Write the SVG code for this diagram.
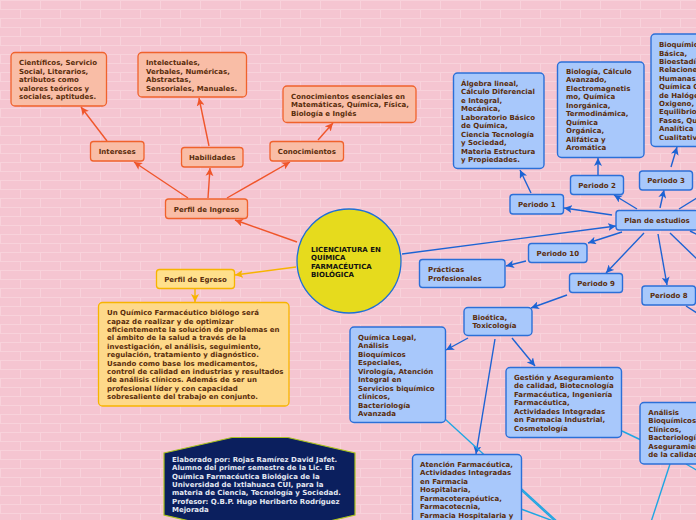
<svg xmlns="http://www.w3.org/2000/svg" width="696" height="520" viewBox="0 0 696 520">
<defs>
<pattern id="brick" width="40" height="18" patternUnits="userSpaceOnUse">
<rect width="40" height="18" fill="#f5c5d1"/>
<path d="M0 0.5H40M0 9.5H40M0.5 0V9M20.5 9V18" stroke="#f8d2db" stroke-width="1" fill="none"/>
</pattern>
<marker id="ao" markerWidth="9" markerHeight="8" refX="8" refY="4" orient="auto" markerUnits="userSpaceOnUse"><path d="M0 0L8 4L0 8L2 4z" fill="#f0552a"/></marker>
<marker id="ay" markerWidth="9" markerHeight="8" refX="8" refY="4" orient="auto" markerUnits="userSpaceOnUse"><path d="M0 0L8 4L0 8L2 4z" fill="#f7b400"/></marker>
<marker id="ab" markerWidth="9" markerHeight="8" refX="8" refY="4" orient="auto" markerUnits="userSpaceOnUse"><path d="M0 0L8 4L0 8L2 4z" fill="#1c63d4"/></marker>
</defs>
<style>
text{font-family:"DejaVu Sans","Verdana",sans-serif;font-weight:bold;font-size:7px;fill:#5a2d0c}
.c{text-anchor:middle}
.o{fill:#f9bda6;stroke:#f0622c;stroke-width:1.3}
.b{fill:#a8c8fb;stroke:#2b6fd8;stroke-width:1.4}
.y{fill:#ffe08c;stroke:#f7b400;stroke-width:1.3}
.y2{fill:#fed98a;stroke:#f7b400;stroke-width:1.3}
.lo{stroke:#f0552a;stroke-width:1.4;fill:none;marker-end:url(#ao)}
.ly{stroke:#f7b400;stroke-width:1.4;fill:none;marker-end:url(#ay)}
.lb{stroke:#1c63d4;stroke-width:1.4;fill:none;marker-end:url(#ab)}
.lb0{stroke:#1c63d4;stroke-width:1.4;fill:none}
.lc{stroke:#1ea6e3;stroke-width:1.4;fill:none}
.k{fill:#111}
.w{fill:#e4e8f2}
</style>
<rect width="696" height="520" fill="url(#brick)"/>

<g id="connectors">
<line class="lo" x1="188" y1="198" x2="134" y2="162"/>
<line class="lo" x1="208" y1="198" x2="210" y2="168"/>
<line class="lo" x1="227" y1="198" x2="290" y2="162"/>
<line class="lo" x1="107" y1="141" x2="81" y2="107"/>
<line class="lo" x1="209" y1="146" x2="199" y2="98"/>
<line class="lo" x1="318" y1="140" x2="333" y2="123"/>
<line class="lo" x1="297" y1="242" x2="235" y2="220"/>
<line class="ly" x1="296" y1="267" x2="235" y2="275"/>
<line class="ly" x1="195" y1="289" x2="195" y2="302"/>
<line class="lb" x1="402" y1="254" x2="616" y2="226"/>
<line class="lb" x1="612" y1="215" x2="564" y2="208"/>
<line class="lb" x1="531" y1="193" x2="520" y2="170"/>
<line class="lb" x1="637" y1="209" x2="614" y2="195"/>
<line class="lb" x1="598" y1="175" x2="598" y2="158"/>
<line class="lb" x1="660" y1="208" x2="664" y2="190"/>
<line class="lb" x1="671" y1="167" x2="677" y2="147"/>
<line class="lb0" x1="679" y1="209" x2="700" y2="196"/>
<line class="lb0" x1="670" y1="233" x2="700" y2="262"/>
<line class="lb0" x1="690" y1="231" x2="700" y2="236"/>
<line class="lb" x1="622" y1="232" x2="588" y2="243"/>
<line class="lb" x1="526" y1="261" x2="506" y2="266"/>
<line class="lb" x1="644" y1="233" x2="606" y2="273"/>
<line class="lb" x1="658" y1="234" x2="667" y2="285"/>
<line class="lb0" x1="686" y1="306" x2="700" y2="315"/>
<line class="lb" x1="567" y1="295" x2="531" y2="308"/>
<line class="lb" x1="468" y1="338" x2="446" y2="350"/>
<line class="lb" x1="512" y1="338" x2="535" y2="366"/>
<line class="lb" x1="495" y1="339" x2="476" y2="454"/>
<line class="lc" x1="445" y1="419" x2="560" y2="524"/>
<line class="lc" x1="521" y1="490" x2="556" y2="522"/>
<line class="lc" x1="521" y1="509" x2="556" y2="522"/>
<line class="lc" x1="622" y1="431" x2="641" y2="440"/>
<line class="lc" x1="670" y1="464" x2="651" y2="522"/>
<line class="lc" x1="686" y1="464" x2="700" y2="472"/>
</g>

<g id="center">
<circle cx="349" cy="261" r="52" fill="#e6db1d" stroke="#1f6fd6" stroke-width="1.3"/>
<text class="k" x="311" y="251.5" font-size="6.7">LICENCIATURA EN</text>
<text class="k" x="311" y="260" font-size="6.7">QUÍMICA</text>
<text class="k" x="311" y="268.5" font-size="6.7">FARMACÉUTICA</text>
<text class="k" x="311" y="277" font-size="6.7">BIOLÓGICA</text>
</g>

<g id="perfil-ingreso"><rect class="o" x="165.5" y="199" width="82" height="19.5" rx="3"/><text class="c" x="206.5" y="211.8">Perfil de Ingreso</text></g>
<g id="intereses"><rect class="o" x="90.5" y="141.5" width="53.5" height="19.5" rx="3"/><text class="c" x="117.2" y="153.8">Intereses</text></g>
<g id="habilidades"><rect class="o" x="181.5" y="147.5" width="61.5" height="19.5" rx="3"/><text class="c" x="212.2" y="159.8">Habilidades</text></g>
<g id="conocimientos"><rect class="o" x="270" y="141.5" width="73.5" height="19.5" rx="3"/><text class="c" x="306.8" y="153.8">Conocimientos</text></g>
<g id="cientificos"><rect class="o" x="11" y="52.5" width="95.5" height="53.5" rx="4"/>
<text x="19" y="65.3">Científicos, Servicio</text><text x="19" y="73.8">Social, Literarios,</text><text x="19" y="82.3">atributos como</text><text x="19" y="90.8">valores teóricos y</text><text x="19" y="99.3">sociales, aptitudes.</text></g>
<g id="intelectuales"><rect class="o" x="138" y="52.5" width="108.5" height="44.5" rx="4"/>
<text x="146" y="65.3">Intelectuales,</text><text x="146" y="73.8">Verbales, Numéricas,</text><text x="146" y="82.3">Abstractas,</text><text x="146" y="90.8">Sensoriales, Manuales.</text></g>
<g id="conocimientos-esenciales"><rect class="o" x="283" y="86" width="133" height="36.5" rx="4"/>
<text x="291" y="98.5">Conocimientos esenciales en</text><text x="291" y="107.1">Matemáticas, Química, Física,</text><text x="291" y="115.7">Biología e Inglés</text></g>

<g id="perfil-egreso"><rect class="y" x="156.5" y="269.5" width="78" height="19" rx="3"/><text class="c" x="195.5" y="281.5">Perfil de Egreso</text></g>
<g id="egreso-texto"><rect class="y2" x="98.5" y="302.5" width="190.5" height="103.5" rx="4"/>
<text x="107" y="315.2">Un Químico Farmacéutico biólogo será</text>
<text x="107" y="323.6">capaz de realizar y de optimizar</text>
<text x="107" y="332">eficientemente la solución de problemas en</text>
<text x="107" y="340.4">el ámbito de la salud a través de la</text>
<text x="107" y="348.8">investigación, el análisis, seguimiento,</text>
<text x="107" y="357.2">regulación, tratamiento y diagnóstico.</text>
<text x="107" y="365.6">Usando como base los medicamentos,</text>
<text x="107" y="374">control de calidad en industrias y resultados</text>
<text x="107" y="382.4">de análisis clínicos. Además de ser un</text>
<text x="107" y="390.8">profesional líder y con capacidad</text>
<text x="107" y="399.2">sobresaliente del trabajo en conjunto.</text></g>

<g id="plan"><rect class="b" x="616" y="210.5" width="82" height="19.5" rx="3"/><text class="c" x="657" y="222.8">Plan de estudios</text></g>
<g id="p1"><rect class="b" x="510" y="194.5" width="53.5" height="19.5" rx="3"/><text class="c" x="536.8" y="206.8">Periodo 1</text></g>
<g id="p2"><rect class="b" x="570.5" y="175.5" width="53" height="19" rx="3"/><text class="c" x="597" y="187.5">Periodo 2</text></g>
<g id="p3"><rect class="b" x="639.5" y="171" width="53" height="19" rx="3"/><text class="c" x="666" y="183">Periodo 3</text></g>
<g id="p10"><rect class="b" x="528.5" y="243.5" width="58.5" height="19" rx="3"/><text class="c" x="557.8" y="255.5">Periodo 10</text></g>
<g id="p9"><rect class="b" x="569.5" y="273.5" width="53" height="19" rx="3"/><text class="c" x="596" y="285.5">Periodo 9</text></g>
<g id="p8"><rect class="b" x="642" y="286" width="53.5" height="19" rx="3"/><text class="c" x="668.8" y="298">Periodo 8</text></g>
<g id="practicas"><rect class="b" x="419.5" y="259.5" width="85.5" height="28" rx="3"/><text x="428" y="271.8">Prácticas</text><text x="428" y="280.6">Profesionales</text></g>
<g id="algebra"><rect class="b" x="453.5" y="73" width="90.5" height="95.5" rx="4"/>
<text x="461" y="85.8">Álgebra lineal,</text><text x="461" y="94.3">Cálculo Diferencial</text><text x="461" y="102.8">e Integral,</text><text x="461" y="111.3">Mecánica,</text><text x="461" y="119.8">Laboratorio Básico</text><text x="461" y="128.3">de Química,</text><text x="461" y="136.8">Ciencia Tecnología</text><text x="461" y="145.3">y Sociedad,</text><text x="461" y="153.8">Materia Estructura</text><text x="461" y="162.3">y Propiedades.</text></g>
<g id="biologia"><rect class="b" x="557.5" y="62" width="86.5" height="95.5" rx="4"/>
<text x="566" y="73.8">Biología, Cálculo</text><text x="566" y="82.3">Avanzado,</text><text x="566" y="90.8">Electromagnetis</text><text x="566" y="99.3">mo, Química</text><text x="566" y="107.8">Inorgánica,</text><text x="566" y="116.3">Termodinámica,</text><text x="566" y="124.8">Química</text><text x="566" y="133.3">Orgánica,</text><text x="566" y="141.8">Alifática y</text><text x="566" y="150.3">Aromática</text></g>
<g id="bioquimica"><rect class="b" x="651" y="34" width="90" height="112.5" rx="4"/>
<text x="659" y="47.2">Bioquímica</text><text x="659" y="55.6">Básica,</text><text x="659" y="64">Bioestadística,</text><text x="659" y="72.4">Relaciones</text><text x="659" y="80.8">Humanas,</text><text x="659" y="89.2">Química Orgánica</text><text x="659" y="97.6">de Halógenos,</text><text x="659" y="106">Oxigeno,</text><text x="659" y="114.4">Equilibrio de</text><text x="659" y="122.8">Fases, Química</text><text x="659" y="131.2">Analítica</text><text x="659" y="139.6">Cualitativa</text></g>
<g id="bioetica"><rect class="b" x="464" y="307.5" width="68" height="28" rx="4"/><text x="472.5" y="319.8">Bioética,</text><text x="472.5" y="328.3">Toxicología</text></g>
<g id="quimica-legal"><rect class="b" x="350" y="327" width="95.5" height="95.5" rx="4"/>
<text x="358" y="339.8">Química Legal,</text><text x="358" y="348.3">Análisis</text><text x="358" y="356.8">Bioquímicos</text><text x="358" y="365.3">Especiales,</text><text x="358" y="373.8">Virología, Atención</text><text x="358" y="382.3">Integral en</text><text x="358" y="390.8">Servicios biquímico</text><text x="358" y="399.3">clínicos,</text><text x="358" y="407.8">Bacteriología</text><text x="358" y="416.3">Avanzada</text></g>
<g id="gestion"><rect class="b" x="506" y="367.5" width="115.5" height="70" rx="4"/>
<text x="514" y="379.8">Gestión y Aseguramiento</text><text x="514" y="388.3">de calidad, Biotecnología</text><text x="514" y="396.8">Farmacéutica, Ingeniería</text><text x="514" y="405.3">Farmacéutica,</text><text x="514" y="413.8">Actividades Integradas</text><text x="514" y="422.3">en Farmacia Industrial,</text><text x="514" y="430.8">Cosmetología</text></g>
<g id="atencion"><rect class="b" x="412.5" y="454.5" width="109" height="80" rx="4"/>
<text x="420" y="466.5">Atención Farmacéutica,</text><text x="420" y="475">Actividades Integradas</text><text x="420" y="483.5">en Farmacia</text><text x="420" y="492">Hospitalaria,</text><text x="420" y="500.5">Farmacoterapéutica,</text><text x="420" y="509">Farmacotecnia,</text><text x="420" y="517.5">Farmacia Hospitalaria y</text></g>
<g id="analisis"><rect class="b" x="640" y="402.5" width="80" height="61.5" rx="4"/>
<text x="648.3" y="414.8">Análisis</text><text x="648.3" y="423.3">Bioquímicos</text><text x="648.3" y="431.8">Clínicos,</text><text x="648.3" y="440.3">Bacteriología</text><text x="648.3" y="448.8">Aseguramiento</text><text x="648.3" y="457.3">de la calidad</text></g>

<g id="creditos"><path d="M164 453L232 437.5H288L355 453V515L288 531H232L164 515Z" fill="#0b1f5e" stroke="#a9c21e" stroke-width="1.2"/>
<text class="w" x="172" y="461.8">Elaborado por: Rojas Ramírez David Jafet.</text>
<text class="w" x="172" y="470.2">Alumno del primer semestre de la Lic. En</text>
<text class="w" x="172" y="478.6">Química Farmacéutica Biológica de la</text>
<text class="w" x="172" y="487">Universidad de Ixtlahuaca CUI, para la</text>
<text class="w" x="172" y="495.4">materia de Ciencia, Tecnología y Sociedad.</text>
<text class="w" x="172" y="503.8">Profesor: Q.B.P. Hugo Heriberto Rodríguez</text>
<text class="w" x="172" y="512.2">Mejorada</text></g>
</svg>
